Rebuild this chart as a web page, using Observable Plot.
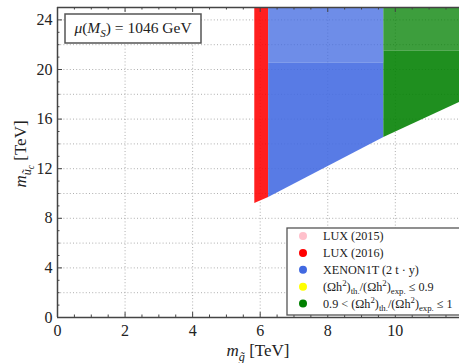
<!DOCTYPE html>
<html><head><meta charset="utf-8">
<script src="https://cdn.jsdelivr.net/npm/d3@7"></script>
<script src="https://cdn.jsdelivr.net/npm/@observablehq/plot@0.6"></script>
<style>body{margin:0;background:#fff} svg{display:block}</style>
</head><body><div id="chart"></div>
<script>
// ---- data ----
const regionNames = ["LUX (2016)", "XENON1T (2 t·y)", "0.9 < Ωh² ratio ≤ 1"];
const regionColors = ["red", "royalblue", "green"];
const regionX0 = [5.84, 6.25, 9.66];
const regionX1 = [6.25, 9.66, 11.9];
const lowerX = [5.84, 6.25, 9.66, 11.9];     // lower edge of the point cloud (m_gluino, TeV)
const lowerY = [9.19, 9.68, 14.52, 17.34];   // lower edge of the point cloud (m_squark, TeV)
const thinFrom = [25, 20.5, 21.5];           // above this value the cloud gets sparser
const cloudTop = 25;
const xMajor = [0, 2, 4, 6, 8, 10];
const xMinor = [0.5, 1, 1.5, 2.5, 3, 3.5, 4.5, 5, 5.5, 6.5, 7, 7.5, 8.5, 9, 9.5, 10.5, 11, 11.5];
const xGrid = [2, 4, 6, 8, 10];
const yMajor = [0, 4, 8, 12, 16, 20, 24];
const yMinor = [1, 2, 3, 5, 6, 7, 9, 10, 11, 13, 14, 15, 17, 18, 19, 21, 22, 23, 25];
const yGrid = [2, 4, 6, 8, 10, 12, 14, 16, 18, 20, 22, 24];
const legendColors = ["pink", "red", "royalblue", "yellow", "green"];
const legendLabels = [
  [{t: "LUX (2015)"}],
  [{t: "LUX (2016)"}],
  [{t: "XENON1T (2 t · y)"}],
  [{t: "(Ωh"}, {t: "2", sup: true}, {t: ")"}, {t: "th.", sub: true}, {t: "/(Ωh"}, {t: "2", sup: true}, {t: ")"}, {t: "exp.", sub: true}, {t: " ≤ 0.9"}],
  [{t: "0.9 < (Ωh"}, {t: "2", sup: true}, {t: ")"}, {t: "th.", sub: true}, {t: "/(Ωh"}, {t: "2", sup: true}, {t: ")"}, {t: "exp.", sub: true}, {t: " ≤ 1"}]
];
const muLabel = [{t: "μ", it: true}, {t: "("}, {t: "M", it: true}, {t: "S", it: true, sub: true}, {t: ") = 1046 GeV"}];
const xLabel = [{t: "m", it: true}, {t: "g̃", it: true, sub: true}, {t: " [TeV]"}];
const yLabel = [{t: "m", it: true}, {t: "ũ", it: true, sub: true}, {t: "c", it: true, sub2: true}, {t: " [TeV]"}];

// build region polygons from the boundary points
const dense = [], sparse = [];
regionNames.forEach((name, i) => {
  dense.push({region: name, x: regionX0[i], y1: lowerY[i], y2: thinFrom[i]});
  dense.push({region: name, x: regionX1[i], y1: lowerY[i + 1], y2: thinFrom[i]});
  sparse.push({region: name, x: regionX0[i], y1: thinFrom[i], y2: cloudTop});
  sparse.push({region: name, x: regionX1[i], y1: thinFrom[i], y2: cloudTop});
});

const W = 459, H = 363, mL = 57, mR = 0, mT = 7, mB = 46;
const fw = W - mL - mR, fh = H - mT - mB;
const axisColor = "#444";
const gridOpts = {stroke: "#9a9a9a", strokeOpacity: 1, strokeWidth: 0.8, strokeDasharray: "1,2.2"};

const chart = Plot.plot({
  width: W, height: H, marginLeft: mL, marginRight: mR, marginTop: mT, marginBottom: mB,
  x: {domain: [0, 11.9]},
  y: {domain: [0, 25]},
  style: {fontFamily: "'Liberation Serif', serif", fontSize: "15px", color: "#222", background: "#fff"},
  marks: [
    Plot.gridX({ticks: xGrid, ...gridOpts}),
    Plot.gridY({ticks: yGrid, ...gridOpts}),
    ...regionNames.map((name, i) => Plot.areaY(dense.filter(d => d.region === name), {x: "x", y1: "y1", y2: "y2", fill: regionColors[i], fillOpacity: 0.88})),
    ...regionNames.map((name, i) => Plot.areaY(sparse.filter(d => d.region === name), {x: "x", y1: "y1", y2: "y2", fill: regionColors[i], fillOpacity: 0.76})),
    Plot.tickX(xMajor, {x: d => d, insetTop: fh - 5, stroke: axisColor}),
    Plot.tickX(xMinor, {x: d => d, insetTop: fh - 2.5, stroke: axisColor}),
    Plot.tickX(xMajor, {x: d => d, insetBottom: fh - 5, stroke: axisColor}),
    Plot.tickX(xMinor, {x: d => d, insetBottom: fh - 2.5, stroke: axisColor}),
    Plot.tickY(yMajor, {y: d => d, insetRight: fw - 5, stroke: axisColor}),
    Plot.tickY(yMinor, {y: d => d, insetRight: fw - 2.5, stroke: axisColor}),
    Plot.ruleY([0], {stroke: axisColor, strokeWidth: 1.5}),
    Plot.ruleY([25], {stroke: axisColor, strokeWidth: 1.5}),
    Plot.ruleX([0], {stroke: axisColor, strokeWidth: 1.5}),
    Plot.axisX({ticks: xMajor, tickSize: 0, tickPadding: 7, label: null, fontSize: 16}),
    Plot.axisY({ticks: yMajor, tickSize: 0, tickPadding: 5, label: null, fontSize: 16})
  ]
});
document.getElementById("chart").appendChild(chart);

// ---- rich text helper (sub/superscripts as tspans) ----
function rich(parent, segs, size, anchor) {
  const t = parent.append("text").attr("fill", "#222").attr("font-size", size)
    .attr("text-anchor", anchor || "start");
  let shift = 0;
  for (const s of segs) {
    let target = 0, fs = size;
    if (s.sub) { target = size * 0.28; fs = size * 0.72; }
    if (s.sub2) { target = size * 0.45; fs = size * 0.55; }
    if (s.sup) { target = -size * 0.38; fs = size * 0.72; }
    t.append("tspan").attr("dy", target - shift).attr("font-size", fs)
      .attr("font-style", s.it ? "italic" : "normal").text(s.t);
    shift = target;
  }
  return t;
}
const svg = d3.select(chart);
const ann = svg.append("g").attr("font-family", "'Liberation Serif', serif");

// mu box
ann.append("rect").attr("x", 65).attr("y", 14).attr("width", 136).attr("height", 29)
  .attr("fill", "#fff").attr("stroke", "#555").attr("stroke-width", 1.5);
rich(ann, muLabel, 15.5, "middle").attr("x", 133).attr("y", 33);

// axis labels
rich(ann, xLabel, 17, "middle").attr("x", mL + fw / 2).attr("y", 356);
rich(ann, yLabel, 17, "middle")
  .attr("transform", `translate(26,${mT + fh / 2 - 8}) rotate(-90)`);

// legend
const lx = 287, ly = 228, rowH = 16.9;
ann.append("rect").attr("x", lx).attr("y", ly).attr("width", 180).attr("height", 87)
  .attr("fill", "#fff").attr("stroke", "#555").attr("stroke-width", 1.3);
legendLabels.forEach((segs, i) => {
  const cy = ly + 8 + rowH * i;
  ann.append("circle").attr("cx", lx + 16).attr("cy", cy).attr("r", 4).attr("fill", legendColors[i]);
  rich(ann, segs, 12.2, "start").attr("x", lx + 36).attr("y", cy + 4);
});
</script>
</body></html>
